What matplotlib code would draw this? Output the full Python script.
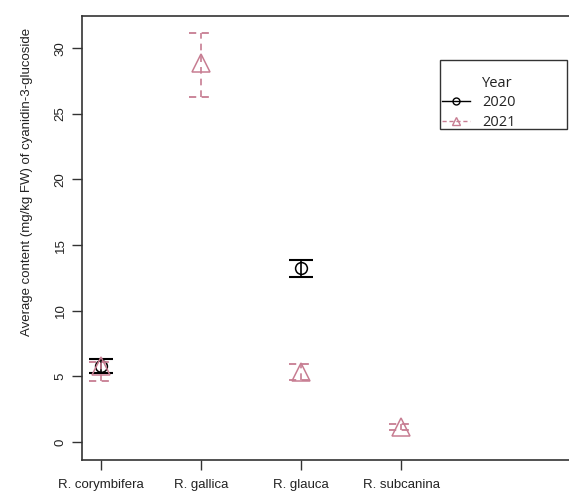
import matplotlib
matplotlib.use("Agg")
import matplotlib.pyplot as plt
from matplotlib.lines import Line2D
from matplotlib.patches import Rectangle
import numpy as np

# data
species = ["R. corymbifera", "R. gallica", "R. glauca", "R. subcanina"]
x_2020 = [1, 3]
mean_2020 = [5.8, 13.25]
low_2020 = [5.25, 12.6]
high_2020 = [6.3, 13.85]

x_2021 = [1, 2, 3, 4]
mean_2021 = [5.8, 28.9, 5.35, 1.15]
low_2021 = [4.65, 26.3, 4.75, 0.9]
high_2021 = [6.1, 31.15, 5.95, 1.4]

yticks = [0, 5, 10, 15, 20, 25, 30]

col_2020 = "black"
col_2021 = "#C77D92"
cap = 0.12
W, H = 569, 493

plt.rcParams['font.family'] = ['Liberation Sans', 'DejaVu Sans']

fig = plt.figure(figsize=(W / 100, H / 100), dpi=100)
ax = fig.add_axes([82 / W, 33 / H, 1 - 82 / W, 444 / H])

# 2020: solid bars, open circles
ax.vlines(x_2020, low_2020, high_2020, color=col_2020, lw=1.2)
ax.hlines(low_2020, np.array(x_2020) - cap, np.array(x_2020) + cap, color=col_2020, lw=1.5)
ax.hlines(high_2020, np.array(x_2020) - cap, np.array(x_2020) + cap, color=col_2020, lw=1.5)
ax.plot(x_2020, mean_2020, ls='none', marker='o', ms=8.5, mfc='none', mec=col_2020, mew=1.1)

# 2021: dashed bars, open triangles
ax.vlines(x_2021, low_2021, high_2021, color=col_2021, lw=1.2, linestyles=(0, (4, 3)))
ax.hlines(low_2021, np.array(x_2021) - cap, np.array(x_2021) + cap, color=col_2021, lw=1.3, linestyles=(0, (4, 3)))
ax.hlines(high_2021, np.array(x_2021) - cap, np.array(x_2021) + cap, color=col_2021, lw=1.3, linestyles=(0, (4, 3)))
ax.plot(x_2021, mean_2021, ls='none', marker='^', ms=13, mfc='none', mec=col_2021, mew=1.1)

ax.set_xlim(0.81, 5.68)
ax.set_ylim(-1.37, 32.45)
ax.set_xticks(range(1, len(species) + 1))
ax.set_xticklabels(species)
ax.set_yticks(yticks)
ax.set_yticklabels([str(v) for v in yticks], rotation=90, va='center')
ax.tick_params(length=7, width=1, labelsize=9.5, color='#333333', labelcolor='#222222')
ax.tick_params(axis='x', pad=7)
ax.tick_params(axis='y', pad=4)
ax.spines['right'].set_visible(False)
for s in ['left', 'top', 'bottom']:
    ax.spines[s].set_linewidth(1.2)
    ax.spines[s].set_color('#333333')
ax.set_ylabel("Average content (mg/kg FW) of cyanidin-3-glucoside", fontsize=9.5, color='#222222')
ax.yaxis.set_label_coords(-(82 - 33) / 487, 0.626)

# legend with "Year" aligned to entries, frame drawn separately
h_blank = Line2D([], [], ls='none')
h20 = Line2D([], [], color=col_2020, lw=1, marker='o', ms=5, mfc='none')
h21 = Line2D([], [], color=col_2021, lw=1, ls=(0, (3, 2)), marker='^', ms=6, mfc='none')
leg = ax.legend([h_blank, h20, h21], ["Year", "2020", "2021"],
                loc='upper left', bbox_to_anchor=(442 / W, 1 - 76 / H),
                bbox_transform=fig.transFigure, frameon=False,
                prop={'family': 'Open Sans', 'size': 10.5},
                handlelength=1.9, handletextpad=0.85, labelspacing=0.3,
                borderpad=0, borderaxespad=0)
for t in leg.get_texts():
    t.set_color('#222222')
fig.patches.append(Rectangle((440 / W, 1 - 129 / H), 127 / W, 69 / H,
                             transform=fig.transFigure, fill=False,
                             edgecolor='#333333', lw=1.0))

fig.savefig("out.png", dpi=100)
